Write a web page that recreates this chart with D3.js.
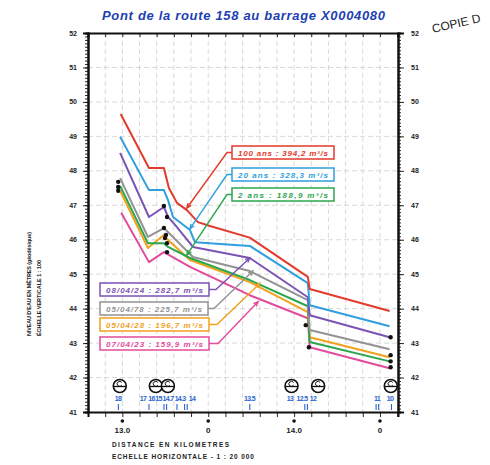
<!DOCTYPE html>
<html><head><meta charset="utf-8">
<script src="https://cdn.jsdelivr.net/npm/d3@7"></script>
<style>
html,body{margin:0;padding:0;background:#fff;}
svg{display:block;font-family:"Liberation Sans",Arial,sans-serif;}
</style></head>
<body><svg id="c" width="490" height="465"></svg>
<script>
// ---------- DATA ----------
const title = "Pont de la route 158 au barrage X0004080";
const yTicks = [41,42,43,44,45,46,47,48,49,50,51,52];
const xTickValues = [13.0, 13.5, 14.0, 14.5];
const xTickLabels = ["13.0", "0", "14.0", "0"];

const seriesNames = ["100 ans : 394,2 m³/s","20 ans : 328,3 m³/s","2 ans : 188,9 m³/s",
  "08/04/24 : 282,7 m³/s","05/04/78 : 225,7 m³/s","05/04/28 : 196,7 m³/s","07/04/23 : 159,9 m³/s"];
const seriesColors = ["#e33a2c","#2f9fe0","#2ba64c","#7b52b5","#939393","#f2a11d","#e24b9c"];

// distance (km) / water level (m) per series
const redKm   = [12.99,13.155,13.242,13.271,13.318,13.376,13.44,13.51,13.742,14.08,14.091,14.556];
const redLvl  = [49.65,48.08,48.08,47.50,47.07,46.86,46.51,46.40,46.06,44.92,44.57,43.93];
const blueKm  = [12.987,13.155,13.242,13.266,13.295,13.394,13.423,13.742,14.08,14.091,14.556];
const blueLvl = [48.99,47.44,47.44,47.15,46.66,46.28,45.93,45.82,44.74,44.10,43.49];
const greenKm  = [12.987,13.149,13.242,13.266,13.394,13.742,14.08,14.091,14.556];
const greenLvl = [47.56,45.90,45.90,45.79,45.47,44.83,44.07,43.03,42.47];
const purpleKm  = [12.987,13.155,13.242,13.266,13.306,13.411,13.742,14.08,14.091,14.556];
const purpleLvl = [48.52,46.66,46.95,46.66,46.44,45.79,45.47,44.33,43.81,43.17];
const grayKm  = [12.987,13.149,13.242,13.411,13.742,14.08,14.091,14.556];
const grayLvl = [47.79,46.08,46.34,45.50,45.09,44.25,43.38,42.82];
const orangeKm  = [12.987,13.149,13.242,13.266,13.394,13.742,14.08,14.091,14.556];
const orangeLvl = [47.42,45.76,46.14,45.99,45.41,44.77,43.90,43.17,42.59];
const magentaKm  = [12.993,13.155,13.242,13.394,13.742,14.08,14.091,14.556];
const magentaLvl = [46.78,45.35,45.64,45.21,44.39,43.72,42.88,42.27];

// observed high-water marks
const markKm  = [12.976,12.976,12.976,13.242,13.26,13.242,13.254,13.248,13.26,13.26,14.068,14.086,14.562,14.562,14.562,14.562];
const markLvl = [47.68,47.53,47.42,46.98,46.66,46.34,46.14,46.05,45.90,45.64,43.52,42.88,43.17,42.65,42.47,42.30];

// cross-section labels
const sectionLabels = ["18","17","16","15","14.7","14.3","14","13.5","13","12.5","12","11","10"];
const sectionLabelKm = [12.975,13.120,13.170,13.2105,13.266,13.336,13.4055,13.74,13.976,14.046,14.110,14.483,14.558];
const sectionTickKm = [12.977,13.155,13.25,13.318,13.37,13.742,14.07,14.485,14.567];
const sectionTickDouble = [false,false,true,false,true,false,true,true,false];
const bridgeKm = [12.985,13.195,13.265,13.985,14.14,14.563];

// ---------- DRAW ----------
const svg = d3.select("#c");
const L=88,R=398,T=33,B=412;
const x = d3.scaleLinear().domain([12.8,14.605]).range([L,R]);
const y = d3.scaleLinear().domain([41,52]).range([B,T]);

// grid
const gridKm = d3.range(129,146).map(d=>d/10);
svg.append("g").selectAll("line").data(gridKm).join("line")
  .attr("x1",d=>x(d)).attr("x2",d=>x(d)).attr("y1",T).attr("y2",B)
  .attr("stroke","#cfcfcf").attr("stroke-width",0.8).attr("stroke-dasharray","5,3");
svg.append("g").selectAll("line").data(yTicks.slice(1,-1)).join("line")
  .attr("x1",L).attr("x2",R).attr("y1",d=>y(d)).attr("y2",d=>y(d))
  .attr("stroke","#cfcfcf").attr("stroke-width",0.8).attr("stroke-dasharray","5,3");

// axes
const minorY = d3.range(410,521).map(d=>d/10);
const axL = d3.axisLeft(y).tickValues(minorY).tickSize(3).tickFormat("");
const axR = d3.axisRight(y).tickValues(minorY).tickSize(3).tickFormat("");
svg.append("g").attr("transform",`translate(${L},0)`).call(axL);
svg.append("g").attr("transform",`translate(${R},0)`).call(axR);
svg.append("g").attr("transform",`translate(${L},0)`).call(d3.axisLeft(y).tickValues(yTicks).tickSize(5).tickFormat(""));
svg.append("g").attr("transform",`translate(${R},0)`).call(d3.axisRight(y).tickValues(yTicks).tickSize(6).tickFormat(""));
const axB = d3.axisBottom(x).tickValues(d3.range(128,147).map(d=>d/10)).tickSize(5).tickFormat("");
svg.append("g").attr("transform",`translate(0,${B})`).call(axB);
const axT = d3.axisBottom(x).tickValues(d3.range(128,147).map(d=>d/10)).tickSize(4).tickFormat("");
svg.append("g").attr("transform",`translate(0,${T})`).call(axT);
svg.selectAll(".domain").attr("stroke","#111").attr("stroke-width",2);
svg.selectAll(".tick line").attr("stroke","#111").attr("stroke-width",0.9);

// y tick labels
svg.append("g").selectAll("text").data(yTicks).join("text")
  .attr("x",L-11).attr("y",d=>y(d)+2.5).attr("text-anchor","end")
  .attr("font-size",7).attr("font-weight","bold").attr("fill","#222").text(d=>d);
svg.append("g").selectAll("text").data(yTicks).join("text")
  .attr("x",R+13).attr("y",d=>y(d)+2.5).attr("text-anchor","start")
  .attr("font-size",7).attr("font-weight","bold").attr("fill","#222").text(d=>d);

// x tick labels with dots
svg.append("g").selectAll("circle").data(xTickValues).join("circle")
  .attr("cx",d=>x(d)).attr("cy",421).attr("r",1.8).attr("fill","#111");
svg.append("g").selectAll("text").data(xTickValues).join("text")
  .attr("x",d=>x(d)).attr("y",433).attr("text-anchor","middle")
  .attr("font-size",8).attr("font-weight","bold").attr("fill","#222")
  .text((d,i)=>xTickLabels[i]);

// axis titles
svg.append("text").attr("x",112).attr("y",447).attr("font-size",6.5).attr("font-weight","bold")
  .attr("fill","#222").attr("textLength",117).text("DISTANCE EN KILOMETRES");
svg.append("text").attr("x",112).attr("y",459).attr("font-size",6.5).attr("font-weight","bold")
  .attr("fill","#222").attr("textLength",142).text("ECHELLE HORIZONTALE - 1 : 20 000");
svg.append("text").attr("transform","translate(31,336) rotate(-90)").attr("font-size",5.5)
  .attr("font-weight","bold").attr("fill","#222").attr("textLength",104).text("NIVEAU D'EAU EN MÈTRES (géodésique)");
svg.append("text").attr("transform","translate(41,336) rotate(-90)").attr("font-size",5.5)
  .attr("font-weight","bold").attr("fill","#222").attr("textLength",76).text("ÉCHELLE VERTICALE  1 : 100");

// title & stamp
svg.append("text").attr("x",102).attr("y",20).attr("font-size",13).attr("font-weight","900")
  .attr("font-style","italic").attr("fill","#1d3fb3").attr("textLength",283).text(title);
svg.append("text").attr("transform","translate(433,33) rotate(-13)").attr("font-size",12)
  .attr("fill","#222").text("COPIE D");

// series
const kms=[redKm,blueKm,greenKm,purpleKm,grayKm,orangeKm,magentaKm];
const lvls=[redLvl,blueLvl,greenLvl,purpleLvl,grayLvl,orangeLvl,magentaLvl];
const line=d3.line().x(d=>x(d[0])).y(d=>y(d[1]));
const drawOrder=[6,5,2,4,3,1,0];
drawOrder.forEach(i=>{
  svg.append("path").datum(kms[i].map((k,j)=>[k,lvls[i][j]]))
    .attr("d",line).attr("fill","none").attr("stroke",seriesColors[i])
    .attr("stroke-width",2).attr("stroke-linejoin","round");
});

// marks
svg.append("g").selectAll("circle").data(markKm).join("circle")
  .attr("cx",d=>x(d)).attr("cy",(d,i)=>y(markLvl[i])).attr("r",2.2).attr("fill","#111");

// legend boxes with leaders
const boxes=[
  {i:0,x:232,y:146,w:102,tip:[13.376,46.92],elbow:227},
  {i:1,x:232,y:168,w:102,tip:[13.394,46.32],elbow:227},
  {i:2,x:232,y:188,w:102,tip:[13.376,45.56],elbow:227},
  {i:3,x:100,y:283,w:109,tip:[13.742,45.47],elbow:216,right:true},
  {i:4,x:100,y:302,w:108,tip:[13.76,45.09],elbow:214,right:true},
  {i:5,x:100,y:318,w:109,tip:[13.80,44.73],elbow:217,right:true},
  {i:6,x:100,y:337,w:109,tip:[13.79,44.20],elbow:218,right:true}
];
boxes.forEach(b=>{
  const c=seriesColors[b.i], h=13;
  const my=b.y+h/2;
  const sx=b.right? b.x+b.w : b.x;
  const tx=x(b.tip[0]), ty=y(b.tip[1]);
  svg.append("polyline").attr("points",`${sx},${my} ${b.elbow},${my} ${tx},${ty}`)
    .attr("fill","none").attr("stroke",c).attr("stroke-width",1.4);
  const ang=Math.atan2(ty-my,tx-b.elbow);
  const a1=ang+Math.PI-0.4,a2=ang+Math.PI+0.4,len=5;
  svg.append("polyline").attr("points",`${tx+len*Math.cos(a1)},${ty+len*Math.sin(a1)} ${tx},${ty} ${tx+len*Math.cos(a2)},${ty+len*Math.sin(a2)}`)
    .attr("fill","none").attr("stroke",c).attr("stroke-width",1.4);
  svg.append("rect").attr("x",b.x).attr("y",b.y).attr("width",b.w).attr("height",h)
    .attr("fill","#fff").attr("stroke",c).attr("stroke-width",1.5);
  svg.append("text").attr("x",b.x+b.w/2).attr("y",b.y+9.5).attr("text-anchor","middle")
    .attr("font-size",8).attr("font-style","italic").attr("font-weight","bold")
    .attr("fill",c).attr("textLength",b.w-12).text(seriesNames[b.i]);
});

// cross-section labels & ticks
svg.append("g").selectAll("text").data(sectionLabels).join("text")
  .attr("x",(d,i)=>x(sectionLabelKm[i])).attr("y",401).attr("text-anchor","middle")
  .attr("font-size",7).attr("font-weight","bold").attr("fill","#2a63cf")
  .attr("letter-spacing",-0.7).text(d=>d);
sectionTickKm.forEach((k,i)=>{
  const offs = sectionTickDouble[i]? [-1.3,1.3] : [0];
  offs.forEach(o=>svg.append("line").attr("x1",x(k)+o).attr("x2",x(k)+o).attr("y1",404).attr("y2",410)
    .attr("stroke","#2a63cf").attr("stroke-width",1.1));
});
// bridge symbols
bridgeKm.forEach(k=>{
  const g=svg.append("g").attr("transform",`translate(${x(k)},386)`);
  g.append("circle").attr("r",6.5).attr("fill","#fff").attr("stroke","#111").attr("stroke-width",1.6);
  g.append("line").attr("x1",-6.5).attr("x2",6.5).attr("y1",0.5).attr("y2",0.5).attr("stroke","#111").attr("stroke-width",1.3);
  g.append("path").attr("d","M2,-3.5 A2.5,2.5 0 1 0 2,-0.8").attr("fill","none").attr("stroke","#111").attr("stroke-width",1);
});
</script></body></html>
